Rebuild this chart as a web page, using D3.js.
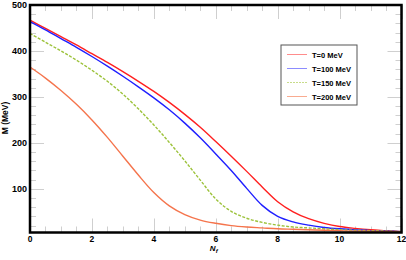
<!DOCTYPE html>
<html>
<head>
<meta charset="utf-8">
<script src="https://cdn.jsdelivr.net/npm/d3@7"></script>
<style>
    body { margin: 0; background: #fff; }
    svg { display: block; font-family: Arial, 'Liberation Sans', sans-serif; }
</style>
</head>
<body>
<svg id="chart" width="406" height="260"></svg>
<script>
/**
 * Data.
 */
const nf = [0, 0.5, 1, 1.5, 2, 2.5, 3, 3.5, 4, 4.5, 5, 5.5, 6, 6.5, 7, 7.5, 8, 8.5, 9, 9.5, 10, 10.5, 11, 11.5, 12];
const massT0 = [467, 449, 431, 413, 394, 375, 355, 334, 312, 288, 262, 234, 203, 171, 138, 104, 72, 50, 35, 25, 18, 14, 11, 9, 7];
const massT100 = [464, 446, 427, 408, 388, 367, 345, 322, 298, 272, 243, 211, 176, 140, 101, 64, 40, 28, 21, 16, 13, 11, 9, 8, 7];
const massT150 = [438, 419, 400, 380, 358, 334, 306, 274, 239, 201, 161, 119, 78, 51, 36, 27, 21, 17, 15, 13, 11, 10, 9, 8, 7];
const massT200 = [365, 341, 314, 284, 250, 212, 171, 130, 92, 63, 44, 32, 25, 20, 17, 15, 13, 12, 11, 10, 9, 8, 8, 7, 6];
const seriesLabels = ['T=0 MeV', 'T=100 MeV', 'T=150 MeV', 'T=200 MeV'];
const xTicks = [0, 2, 4, 6, 8, 10, 12];
const yTicks = [100, 200, 300, 400, 500];

/**
 * Visual configs.
 */
const margin = { top: 5, right: 5, bottom: 27.5, left: 30 };
const visWidth = 406, visHeight = 260;
const width = visWidth - margin.left - margin.right + 0.5,
    height = visHeight - margin.top - margin.bottom;

const styles = [
    { color: '#ff1f1f', legend: '#ff8c8c', dash: null },
    { color: '#1f1fff', legend: '#8c8cff', dash: null },
    { color: '#9cc23a', legend: '#c8dc8a', dash: '3,1.5' },
    { color: '#f5744c', legend: '#f9ab90', dash: null }
];

const svg = d3.select('#chart');
const g = svg.append('g').attr('transform', 'translate(' + margin.left + ',' + margin.top + ')');

const x = d3.scaleLinear().domain([0, 12]).range([0, width]);
const y = d3.scaleLinear().domain([5, 500]).range([height, 0]);

/**
 * Ticks (light gray, drawn inside the frame on all four sides).
 */
const ticks = g.append('g').attr('stroke', '#cfcfcf').attr('stroke-width', 1);
const xMinor = d3.range(0, 12.01, 0.5);
const yMinor = d3.range(20, 500.1, 20);
const majorLen = 14, minorLen = 6;

xMinor.forEach(v => {
    const len = xTicks.includes(v) ? majorLen : minorLen;
    const px = Math.round(x(v)) + 0.5;
    ticks.append('line').attr('x1', px).attr('x2', px).attr('y1', height).attr('y2', height - len);
    ticks.append('line').attr('x1', px).attr('x2', px).attr('y1', 0).attr('y2', len);
});
yMinor.forEach(v => {
    const len = yTicks.includes(v) ? majorLen : minorLen;
    const py = Math.round(y(v)) + 0.5;
    ticks.append('line').attr('x1', 0).attr('x2', len).attr('y1', py).attr('y2', py);
    ticks.append('line').attr('x1', width).attr('x2', width - len).attr('y1', py).attr('y2', py);
});

/**
 * Curves.
 */
const allSeries = [massT0, massT100, massT150, massT200];
const line = d3.line()
    .x((d, i) => x(nf[i]))
    .y(d => y(d))
    .curve(d3.curveCatmullRom.alpha(0.5));

g.append('g').selectAll('path')
    .data(allSeries)
    .join('path')
    .attr('d', line)
    .attr('fill', 'none')
    .attr('stroke', (d, i) => styles[i].color)
    .attr('stroke-width', 1.4)
    .attr('stroke-dasharray', (d, i) => styles[i].dash);

/**
 * Frame.
 */
g.append('rect')
    .attr('width', width).attr('height', height)
    .attr('fill', 'none').attr('stroke', '#000').attr('stroke-width', 2.5);

/**
 * Tick labels.
 */
g.append('g').selectAll('text')
    .data(xTicks)
    .join('text')
    .attr('x', d => x(d))
    .attr('y', height + 9)
    .attr('text-anchor', 'middle')
    .attr('font-size', 8.5).attr('font-weight', 'bold')
    .text(d => d);

g.append('g').selectAll('text')
    .data(yTicks)
    .join('text')
    .attr('x', -3)
    .attr('y', d => y(d) + 3)
    .attr('text-anchor', 'end')
    .attr('font-size', 9).attr('font-weight', 'bold')
    .text(d => d);

/**
 * Axis titles.
 */
svg.append('text')
    .attr('transform', 'translate(8,118) rotate(-90)')
    .attr('text-anchor', 'middle')
    .attr('font-size', 8.5).attr('font-weight', 'bold')
    .text('M (MeV)');

const xTitle = svg.append('text')
    .attr('x', margin.left + x(6) - 2)
    .attr('y', 251)
    .attr('text-anchor', 'middle')
    .attr('font-size', 8).attr('font-weight', 'bold').attr('font-style', 'italic');
xTitle.append('tspan').text('N');
xTitle.append('tspan').attr('font-size', 6).attr('dy', 2).text('f');

/**
 * Legend.
 */
const legend = svg.append('g').attr('transform', 'translate(281,45)');
legend.append('rect')
    .attr('width', 76).attr('height', 60)
    .attr('fill', '#fff').attr('stroke', '#555').attr('stroke-width', 1);

const items = legend.selectAll('.item')
    .data(seriesLabels)
    .join('g')
    .attr('class', 'item')
    .attr('transform', (d, i) => 'translate(0,' + (9.5 + i * 14) + ')');

items.append('line')
    .attr('x1', 6).attr('x2', 26)
    .attr('stroke', (d, i) => styles[i].legend)
    .attr('stroke-width', 1)
    .attr('stroke-dasharray', (d, i) => styles[i].dash ? '2,1' : null);

items.append('text')
    .attr('x', 31).attr('y', 3)
    .attr('font-size', 7.5).attr('font-weight', 'bold')
    .text(d => d);
</script>
</body>
</html>
